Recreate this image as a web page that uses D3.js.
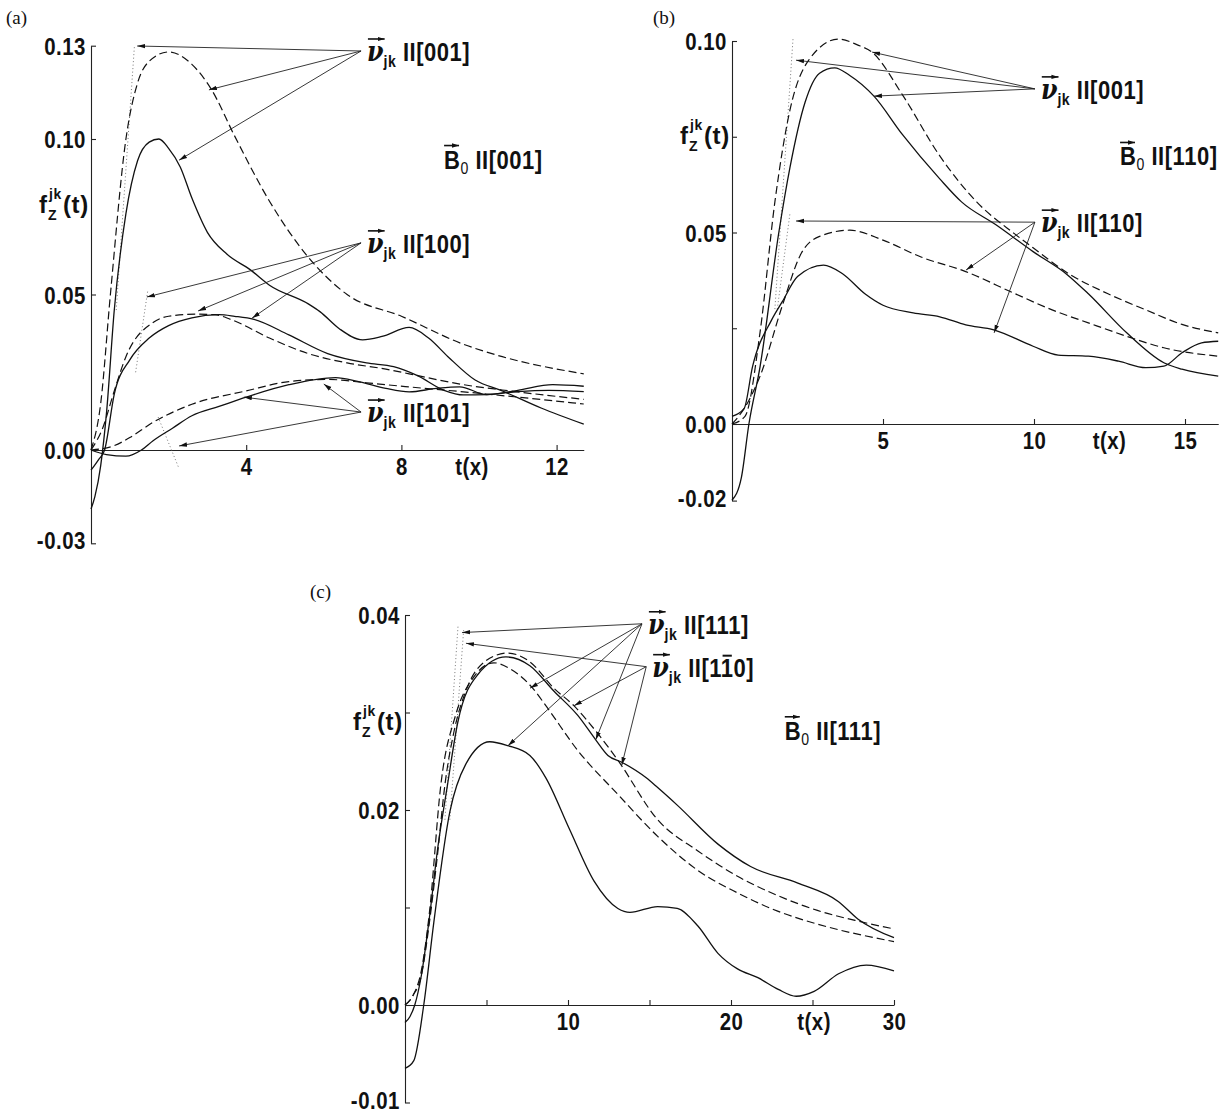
<!DOCTYPE html>
<html>
<head>
<meta charset="utf-8">
<script src="https://cdn.jsdelivr.net/npm/d3@7"></script>
<style>
  body { margin: 0; background: #fff; }
  svg { display: block; }
  .tick text, .lbl { font-family: "Liberation Sans", Arial, sans-serif; font-weight: bold; fill: #111; letter-spacing: 0.6px; }
  .nu { font-family: "DejaVu Serif", serif; font-style: italic; font-weight: bold; letter-spacing: 0; }
  .plab { font-family: "Liberation Serif", "DejaVu Serif", serif; font-size: 19px; fill: #111; }
  .domain, .tick line { stroke: #222; stroke-width: 1.1; }
</style>
</head>
<body>
<svg id="fig" width="1225" height="1116"></svg>
<script>
// ---- panel (a): B0 || [001] ----
var a001Dot   = [[0.65, 0.045], [1.12, 0.13]];
var a001Dash  = [[0, 0], [0.25, 0.015], [0.5, 0.05], [0.9, 0.1], [1.2, 0.118], [1.5, 0.125], [2.0, 0.128], [2.6, 0.124], [3.1, 0.116], [3.7, 0.101], [4.6, 0.08], [5.6, 0.062], [6.6, 0.05], [8.0, 0.043], [9.6, 0.034], [10.6, 0.03], [12.7, 0.0245]];
var a001Solid = [[0, -0.019], [0.1, -0.015], [0.25, -0.005], [0.4, 0.012], [0.6, 0.045], [0.9, 0.076], [1.2, 0.093], [1.5, 0.099], [1.75, 0.1], [2.0, 0.097], [2.3, 0.091], [2.6, 0.081], [3.0, 0.07], [3.5, 0.063], [4.1, 0.058], [4.6, 0.053], [5.6, 0.047], [5.9, 0.0445], [6.4, 0.039], [7.0, 0.0354], [7.5, 0.0365], [8.2, 0.0394], [8.7, 0.036], [9.2, 0.03], [9.9, 0.0225], [10.6, 0.019], [11.6, 0.0135], [12.7, 0.0083]];
var a100Dot   = [[1.15, 0.025], [1.46, 0.051]];
var a100Dash  = [[0, 0], [0.3, 0.007], [0.6, 0.019], [0.9, 0.03], [1.6, 0.041], [2.0, 0.043], [2.7, 0.0437], [3.2, 0.0435], [3.6, 0.042], [4.6, 0.036], [5.6, 0.031], [6.6, 0.028], [7.6, 0.026], [8.2, 0.0245], [9.6, 0.021], [10.6, 0.0193], [12.7, 0.0163]];
var a100Solid = [[0, -0.0065], [0.2, -0.003], [0.35, 0], [0.6, 0.018], [1.0, 0.029], [1.5, 0.036], [2.0, 0.04], [2.6, 0.0425], [3.3, 0.0435], [3.7, 0.043], [4.2, 0.042], [5.1, 0.037], [6.1, 0.031], [7.1, 0.028], [7.8, 0.0268], [8.4, 0.024], [9.1, 0.0192], [9.6, 0.0177], [10.2, 0.0178], [11.0, 0.0188], [11.8, 0.0192], [12.7, 0.0188]];
var a101Dot   = [[1.73, 0.0106], [2.27, -0.006]];
var a101Dash  = [[0, 0], [0.6, 0.0014], [1.0, 0.004], [1.6, 0.0089], [2.6, 0.0147], [4.0, 0.019], [5.1, 0.022], [6.1, 0.0227], [7.1, 0.0216], [8.1, 0.0204], [9.6, 0.0187], [10.6, 0.0175], [12.7, 0.0148]];
var a101Solid = [[0, 0], [0.4, -0.0015], [0.9, -0.002], [1.3, 0], [1.6, 0.003], [2.1, 0.007], [2.6, 0.011], [3.3, 0.014], [4.0, 0.017], [5.1, 0.021], [6.3, 0.0233], [6.9, 0.022], [7.6, 0.0198], [8.2, 0.0187], [8.9, 0.0198], [9.5, 0.0203], [10.2, 0.0178], [11.0, 0.0192], [11.9, 0.021], [12.7, 0.0205]];

// ---- panel (b): B0 || [110] ----
var b001Dot   = [[1.42, 0.03], [2.02, 0.1005]];
var b001Dash  = [[0, 0], [0.43, 0.002], [0.93, 0.024], [1.42, 0.058], [1.92, 0.082], [2.54, 0.095], [3.53, 0.1005], [4.15, 0.099], [4.65, 0.097], [5.64, 0.086], [6.88, 0.07], [8.1, 0.058], [9.35, 0.0497], [9.97, 0.046], [11.2, 0.039], [12.45, 0.034], [13.7, 0.0298], [14.9, 0.026], [16.1, 0.0238]];
var b001Solid = [[0, -0.0199], [0.31, -0.014], [0.56, 0], [0.93, 0.015], [1.55, 0.05], [1.92, 0.067], [2.42, 0.084], [2.9, 0.0916], [3.4, 0.093], [3.9, 0.091], [4.7, 0.0856], [5.64, 0.0756], [6.88, 0.064], [7.6, 0.058], [8.74, 0.052], [9.97, 0.045], [11.1, 0.039], [11.8, 0.034], [13.07, 0.0238], [14.3, 0.016], [14.9, 0.0143], [16.1, 0.0125]];
var b110Dot   = [[1.5, 0.03], [1.92, 0.055]];
var b110Dash  = [[0, 0], [0.4, 0.004], [0.93, 0.0125], [1.67, 0.031], [2.29, 0.0445], [2.9, 0.049], [3.9, 0.0506], [5.0, 0.048], [6.26, 0.0436], [7.74, 0.0398], [9.35, 0.0341], [10.6, 0.0298], [11.8, 0.0264], [13.07, 0.0229], [14.3, 0.0199], [16.1, 0.0177]];
var b110Solid = [[0, 0.002], [0.4, 0.004], [0.68, 0.015], [1.3, 0.027], [1.67, 0.032], [2.17, 0.0385], [3.03, 0.0415], [3.65, 0.0393], [4.4, 0.034], [5.0, 0.031], [6.0, 0.029], [6.88, 0.028], [7.74, 0.0259], [8.67, 0.0246], [9.97, 0.0203], [10.8, 0.018], [11.8, 0.0177], [12.8, 0.0164], [13.7, 0.0147], [14.3, 0.0151], [14.9, 0.0186], [15.55, 0.0212], [16.1, 0.0216]];

// ---- panel (c): B0 || [111] ----
var c111Dot   = [[2.45, 0.019], [3.25, 0.0388]];
var c1m10Dot  = [[2.75, 0.019], [3.6, 0.0385]];
var cDashA    = [[0, 0], [0.5, 0.001], [1.0, 0.0035], [1.5, 0.0095], [2.2, 0.0226], [3.1, 0.0297], [4.2, 0.0336], [5.45, 0.0351], [6.43, 0.0345], [7.78, 0.0326], [8.64, 0.0307], [10.6, 0.0261], [13.06, 0.0216], [15.5, 0.0173], [17.97, 0.0138], [20.4, 0.0115], [22.9, 0.0096], [25.3, 0.0083], [30, 0.0065]];
var cDashB    = [[0, 0], [0.5, 0.001], [1.0, 0.003], [1.5, 0.0085], [2.0, 0.0155], [2.45, 0.0226], [3.0, 0.028], [3.73, 0.0322], [4.96, 0.0353], [6.3, 0.0361], [7.66, 0.0352], [9.13, 0.0325], [10.36, 0.0307], [11.8, 0.0279], [13.06, 0.0251], [15.5, 0.019], [17.97, 0.0158], [20.4, 0.0132], [22.9, 0.0112], [25.3, 0.0097], [27.8, 0.0086], [30, 0.0078]];
var cSolidA   = [[0, -0.0018], [0.3, -0.0012], [0.6, 0], [1.0, 0.003], [1.5, 0.009], [2.0, 0.016], [2.6, 0.0225], [3.24, 0.029], [4.47, 0.0339], [6.19, 0.0357], [7.66, 0.0348], [9.13, 0.0322], [10.6, 0.0297], [11.7, 0.0272], [12.45, 0.0256], [13.3, 0.0249], [14.8, 0.0233], [15.5, 0.0223], [16.7, 0.0205], [19.2, 0.0165], [21.2, 0.0142], [24.1, 0.0125], [26.6, 0.0106], [27.8, 0.0088], [30, 0.0069]];
var cSolidB   = [[0, -0.0065], [0.54, -0.0057], [1.15, 0], [1.77, 0.0085], [2.75, 0.0198], [3.73, 0.0247], [5.2, 0.027], [6.3, 0.0266], [7.66, 0.0256], [8.64, 0.0233], [10.1, 0.018], [11.6, 0.0127], [13.06, 0.0099], [13.8, 0.0095], [15.5, 0.0101], [16.7, 0.0099], [17.97, 0.0081], [19.2, 0.0053], [20.4, 0.0037], [21.65, 0.0028], [22.9, 0.0016], [24.0, 0.0009], [25.1, 0.0014], [26.6, 0.0032], [28.3, 0.0041], [30, 0.0035]];

// axis ticks and labels
var aYTicks = [0.13, 0.10, 0.05, 0.00, -0.03];
var aYLabels = ["0.13", "0.10", "0.05", "0.00", "-0.03"];
var aXTicks = [4, 8, 12];
var aXLabels = ["4", "8", "12"];
var bYTicks = [0.10, 0.075, 0.05, 0.025, 0.00, -0.02];
var bYLabels = ["0.10", "", "0.05", "", "0.00", "-0.02"];
var bXTicks = [5, 10, 15];
var bXLabels = ["5", "10", "15"];
var cYTicks = [0.04, 0.03, 0.02, 0.01, 0.00, -0.01];
var cYLabels = ["0.04", "", "0.02", "", "0.00", "-0.01"];
var cXTicks = [5, 10, 15, 20, 25, 30];
var cXLabels = ["", "10", "", "20", "", "30"];

// annotations: label anchor [t, v], direction text (bar = index of overlined digit), arrow tips [t, v]
var aNotes = [
  {at: [6.96, 0.1283], dir: "001", tips: [[1.19, 0.1299], [3.04, 0.1158], [2.27, 0.0932]]},
  {at: [6.96, 0.0666], dir: "100", tips: [[1.44, 0.0492], [2.76, 0.0447], [4.15, 0.0424]]},
  {at: [6.96, 0.0122], dir: "101", tips: [[6.0, 0.0212], [3.94, 0.017], [2.27, 0.0013]]}
];
var bNotes = [
  {at: [10.03, 0.0875], dir: "001", tips: [[4.64, 0.0971], [2.12, 0.095], [4.7, 0.0856]]},
  {at: [10.03, 0.0527], dir: "110", tips: [[2.12, 0.053], [7.75, 0.0402], [8.68, 0.0238]]}
];
var cNotes = [
  {at: [14.54, 0.0391], dir: "111", tips: [[3.5, 0.0382], [7.67, 0.0325], [6.32, 0.0266], [11.7, 0.0272]]},
  {at: [14.8, 0.0347], dir: "110", bar: 1, tips: [[3.74, 0.0371], [10.37, 0.0307], [13.3, 0.0246]]}
];

var SX = 0.85;   // horizontal squeeze for tick numbers
var SXL = 0.88;  // horizontal squeeze for annotation labels

var svg = d3.select("#fig");

var defs = svg.append("defs");
defs.append("marker").attr("id", "head")
  .attr("viewBox", "0 -3 8 6").attr("refX", 8).attr("refY", 0)
  .attr("markerWidth", 8).attr("markerHeight", 6).attr("markerUnits", "userSpaceOnUse")
  .attr("orient", "auto")
  .append("path").attr("d", "M0,-2.2L8,0L0,2.2Z").attr("fill", "#111");

var styles = {
  solid: {dash: null, color: "#111", w: 1.3},
  dash:  {dash: "8,4", color: "#111", w: 1.2},
  dot:   {dash: "1,2.5", color: "#777", w: 1}
};

function vecArrow(g, x0, x1, yy) {
  g.append("line").attr("x1", x0).attr("x2", x1).attr("y1", yy).attr("y2", yy)
    .attr("stroke", "#111").attr("stroke-width", 1.6).attr("marker-end", "url(#head)");
}

function nuLabel(g, px, py, dir, bar) {
  var h = g.append("g").attr("transform", "translate(" + px + "," + py + ") scale(" + SXL + ",1)");
  var t = h.append("text").attr("class", "lbl").attr("x", 0).attr("y", 0).attr("font-size", 25);
  t.append("tspan").attr("class", "nu").attr("font-size", 27).text("\u03BD");
  t.append("tspan").attr("font-size", 16).attr("dy", 6).text("jk");
  t.append("tspan").attr("dy", -6).text(" II[" + dir + "]");
  vecArrow(h, 1, 20, -22);
  if (bar !== undefined) {
    // overline over one digit, e.g. [1 1̄ 0]
    var ext = t.node().getExtentOfChar(7 + bar);
    h.append("line").attr("x1", ext.x + 2).attr("x2", ext.x + ext.width - 2)
      .attr("y1", -21).attr("y2", -21).attr("stroke", "#111").attr("stroke-width", 2);
  }
}

function bLabel(g, px, py, dir) {
  var h = g.append("g").attr("transform", "translate(" + px + "," + py + ") scale(" + SXL + ",1)");
  var t = h.append("text").attr("class", "lbl").attr("x", 0).attr("y", 0).attr("font-size", 25);
  t.append("tspan").text("B");
  t.append("tspan").attr("font-size", 16).attr("dy", 5).attr("font-weight", "normal").text("0");
  t.append("tspan").attr("dy", -5).text(" II[" + dir + "]");
  vecArrow(h, 0, 17, -23);
}

function fLabel(g, right, base) {
  var x0 = right - 48;
  g.append("text").attr("class", "lbl").attr("x", x0).attr("y", base).attr("font-size", 24).text("f");
  g.append("text").attr("class", "lbl").attr("x", x0 + 10).attr("y", base - 14).attr("font-size", 14).attr("font-weight", "normal").text("jk");
  g.append("text").attr("class", "lbl").attr("x", x0 + 9).attr("y", base + 7).attr("font-size", 14).attr("font-weight", "normal").text("Z");
  g.append("text").attr("class", "lbl").attr("x", x0 + 24).attr("y", base).attr("font-size", 24).text("(t)");
}

function drawPanel(p) {
  var g = svg.append("g");
  var x = d3.scaleLinear().domain(p.xDomain).range(p.xRange);
  var y = d3.scaleLinear().domain(p.yDomain).range(p.yRange);

  var yAxis = d3.axisLeft(y).tickValues(p.yTicks)
    .tickFormat(function (d, i) { return p.yLabels[i]; })
    .tickSize(-5).tickSizeOuter(0).tickPadding(6);
  var ya = g.append("g").attr("transform", "translate(" + x(0) + ",0)").call(yAxis);
  ya.selectAll("text").attr("font-size", 24).attr("dy", "0.36em")
    .attr("transform", function (d) { return d === p.yDomain[0] ? "translate(0,-3) scale(" + SX + ",1)" : "scale(" + SX + ",1)"; });

  var xAxis = d3.axisBottom(x).tickValues(p.xTicks)
    .tickFormat(function (d, i) { return p.xLabels[i]; })
    .tickSize(-5).tickSizeOuter(0).tickPadding(8);
  var xa = g.append("g").attr("transform", "translate(0," + y(0) + ")").call(xAxis);
  xa.selectAll("text").attr("font-size", 24).attr("transform", "scale(" + SX + ",1)");

  g.append("g").attr("transform", "translate(" + x(p.tx) + "," + (y(0) + 25) + ") scale(" + SX + ",1)")
    .append("text").attr("class", "lbl").attr("font-size", 24).attr("text-anchor", "middle").text("t(x)");

  p.series.forEach(function (s) {
    var st = styles[s.kind];
    var ln = d3.line().x(function (d) { return x(d[0]); }).y(function (d) { return y(d[1]); })
      .curve(s.kind === "dot" ? d3.curveLinear : d3.curveMonotoneX);
    g.append("path").datum(s.pts).attr("d", ln).attr("fill", "none")
      .attr("stroke", st.color).attr("stroke-width", st.w)
      .attr("stroke-dasharray", st.dash);
  });

  p.notes.forEach(function (n) {
    var ax = x(n.at[0]), ay = y(n.at[1]);
    n.tips.forEach(function (tp) {
      g.append("line").attr("x1", ax).attr("y1", ay).attr("x2", x(tp[0])).attr("y2", y(tp[1]))
        .attr("stroke", "#222").attr("stroke-width", 0.9).attr("marker-end", "url(#head)");
    });
    nuLabel(g, ax + 6, ay + 10, n.dir, n.bar);
  });

  bLabel(g, x(p.bAt[0]), y(p.bAt[1]), p.bDir);
  fLabel(g, x(0) - 4, p.fBase);
  g.append("text").attr("class", "plab").attr("x", p.plab[0]).attr("y", p.plab[1]).text(p.name);
}

drawPanel({
  name: "(a)", plab: [6, 24],
  xDomain: [0, 12.7], xRange: [91, 91 + 38.8 * 12.7],
  yDomain: [-0.03, 0.13], yRange: [450 + 3110 * 0.03, 450 - 3110 * 0.13],
  yTicks: aYTicks, yLabels: aYLabels, xTicks: aXTicks, xLabels: aXLabels, tx: 9.82,
  series: [
    {pts: a001Dot, kind: "dot"}, {pts: a001Dash, kind: "dash"}, {pts: a001Solid, kind: "solid"},
    {pts: a100Dot, kind: "dot"}, {pts: a100Dash, kind: "dash"}, {pts: a100Solid, kind: "solid"},
    {pts: a101Dot, kind: "dot"}, {pts: a101Dash, kind: "dash"}, {pts: a101Solid, kind: "solid"}
  ],
  notes: aNotes, bAt: [9.1, 0.0905], bDir: "001", fBase: 213
});

drawPanel({
  name: "(b)", plab: [653, 24],
  xDomain: [0, 16.1], xRange: [732, 732 + 30.2 * 16.1],
  yDomain: [-0.02, 0.10], yRange: [424 + 3830 * 0.02, 424 - 3830 * 0.10],
  yTicks: bYTicks, yLabels: bYLabels, xTicks: bXTicks, xLabels: bXLabels, tx: 12.5,
  series: [
    {pts: b001Dot, kind: "dot"}, {pts: b001Dash, kind: "dash"}, {pts: b001Solid, kind: "solid"},
    {pts: b110Dot, kind: "dot"}, {pts: b110Dash, kind: "dash"}, {pts: b110Solid, kind: "solid"}
  ],
  notes: bNotes, bAt: [12.85, 0.0675], bDir: "110", fBase: 144
});

drawPanel({
  name: "(c)", plab: [310, 598],
  xDomain: [0, 30], xRange: [405, 405 + 16.3 * 30],
  yDomain: [-0.01, 0.04], yRange: [1005 + 9750 * 0.01, 1005 - 9750 * 0.04],
  yTicks: cYTicks, yLabels: cYLabels, xTicks: cXTicks, xLabels: cXLabels, tx: 25.1,
  series: [
    {pts: c111Dot, kind: "dot"}, {pts: c1m10Dot, kind: "dot"},
    {pts: cDashA, kind: "dash"}, {pts: cDashB, kind: "dash"},
    {pts: cSolidA, kind: "solid"}, {pts: cSolidB, kind: "solid"}
  ],
  notes: cNotes, bAt: [23.3, 0.0272], bDir: "111", fBase: 730
});
</script>
</body>
</html>
